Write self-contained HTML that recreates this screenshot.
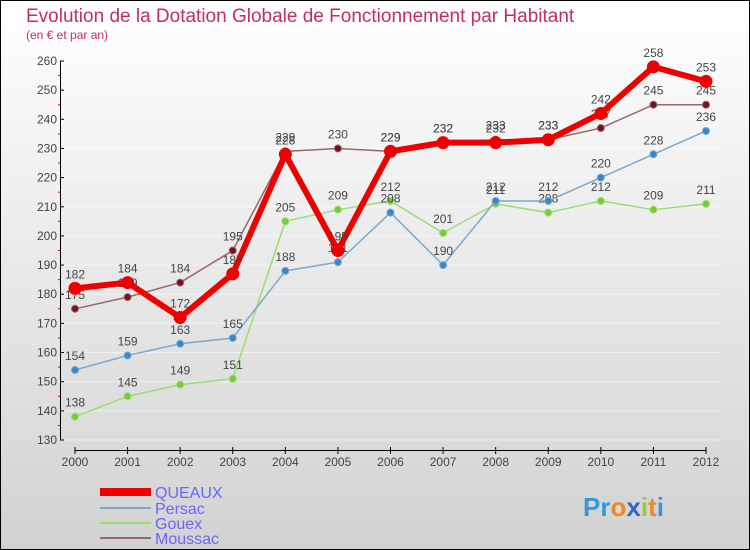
<!DOCTYPE html>
<html><head><meta charset="utf-8"><style>
body{margin:0;}
svg{display:block;font-family:"Liberation Sans",sans-serif;}
</style></head><body>
<svg id="chart" width="750" height="550" viewBox="0 0 750 550">
<defs><linearGradient id="bg" x1="0" y1="0" x2="0" y2="1"><stop offset="0" stop-color="#ffffff"/><stop offset="1" stop-color="#d2d2d2"/></linearGradient></defs>
<rect x="0.5" y="0.5" width="749" height="549" fill="url(#bg)" stroke="#000"/>
<text x="26" y="22" font-size="19" fill="#c0305a">Evolution de la Dotation Globale de Fonctionnement par Habitant</text>
<text x="26" y="39" font-size="12" fill="#c0305a">(en € et par an)</text>
<g id="grid"></g><g id="axes"></g><g id="series"></g>
<g>
<rect x="100" y="488" width="51" height="8" fill="#ee0000"/>
<text x="155" y="498" font-size="16" fill="#6666ff">QUEAUX</text>
<rect x="100" y="507" width="51" height="2" fill="#7aa8cc"/>
<text x="155" y="514" font-size="16" fill="#6666ff">Persac</text>
<rect x="100" y="522" width="51" height="2" fill="#99dd77"/>
<text x="155" y="529" font-size="16" fill="#6666ff">Gouex</text>
<rect x="100" y="537" width="51" height="2" fill="#996666"/>
<text x="155" y="544" font-size="16" fill="#6666ff">Moussac</text>
</g>
<g><text x="583" y="516" font-size="26" font-weight="bold"><tspan fill="#3399dd">Pr</tspan><tspan fill="#ee8822">o</tspan><tspan fill="#3366cc">x</tspan><tspan fill="#99cc33">i</tspan><tspan fill="#ee8822">t</tspan><tspan fill="#3399dd">i</tspan></text></g>
</svg>
<script>
const years=[2000,2001,2002,2003,2004,2005,2006,2007,2008,2009,2010,2011,2012];
const queaux=[182,184,172,187,228,195,229,232,232,233,242,258,253];
const persac=[154,159,163,165,188,191,208,190,212,212,220,228,236];
const gouex=[138,145,149,151,205,209,212,201,211,208,212,209,211];
const moussac=[175,179,184,195,229,230,229,232,233,233,237,245,245];
const yTicks=[130,140,150,160,170,180,190,200,210,220,230,240,250,260];
const NS="http://www.w3.org/2000/svg";
const x=i=>75+i*(706-75)/(years.length-1);
const y=v=>440-(v-130)*(440-61)/130;
function mk(tag,attrs,parent){const e=document.createElementNS(NS,tag);for(const k in attrs)e.setAttribute(k,attrs[k]);parent.appendChild(e);return e;}
const grid=document.getElementById('grid'),axes=document.getElementById('axes'),ser=document.getElementById('series');
yTicks.forEach(t=>{
 const g=mk('line',{x1:61,x2:720,y1:y(t),y2:y(t),stroke:'#ffffff','stroke-width':1,opacity:0.5},grid);
 
 
 const tk=mk('line',{x1:60,x2:64,y1:y(t),y2:y(t),stroke:'#000'},axes);
 
 
 if(t<260){const m=mk('line',{x1:58,x2:61,y1:y(t+5),y2:y(t+5),stroke:'#ee0000'},axes);
 
 }
 const l=mk('text',{x:57,y:y(t)+4,'font-size':12,fill:'#444','text-anchor':'end'},axes);l.textContent=t;
 
 
});
let a=mk('line',{x1:60.5,x2:60.5,y1:61,y2:440,stroke:'#000'},axes);


a=mk('line',{x1:75,x2:706,y1:450.5,y2:450.5,stroke:'#000'},axes);


years.forEach((yr,i)=>{
 const tk=mk('line',{x1:x(i),x2:x(i),y1:447,y2:454,stroke:'#000'},axes);
 
 
 const l=mk('text',{x:x(i),y:466,'font-size':12,fill:'#444','text-anchor':'middle'},axes);l.textContent=yr;
 
 
});
function draw(name,vals,color,dot,w,r){
 const g=mk('g',{},ser);
 
 
 const p=mk('polyline',{points:vals.map((v,i)=>x(i)+','+y(v)).join(' '),fill:'none',stroke:color,'stroke-width':w,'stroke-linejoin':'round'},g);
 
 
 vals.forEach((v,i)=>{
  const c=mk('circle',{cx:x(i),cy:y(v),r:r,fill:dot,stroke:color,'stroke-width':1},g);
  
  
  const t=mk('text',{x:x(i),y:y(v)-10,'font-size':12,fill:'#444','text-anchor':'middle'},g);t.textContent=v;
  
  
 });
}
draw('gouex',gouex,'#99dd77','#77cc33',1.5,3.5);
draw('persac',persac,'#7aa8cc','#3388cc',1.5,3.5);
draw('moussac',moussac,'#996666','#771122',1.5,3.5);
draw('queaux',queaux,'#ee0000','#ee0000',6,6);
</script>
</body></html>
